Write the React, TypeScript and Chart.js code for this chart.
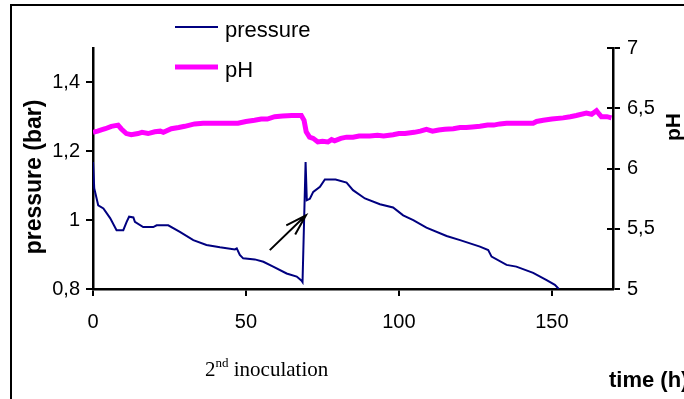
import { useEffect, useRef } from "react";
import { Chart, registerables } from "chart.js";

Chart.register(...registerables);

// ---- data ----
const pressureTime = [
  0, 0.4, 1.7, 3.4, 5.6, 7.7, 9.9, 11, 11.8, 13.2, 13.7, 16.4, 19.7, 20.8, 24.6,
  28.4, 32.8, 37.1, 41.5, 46.4, 47, 48, 49.1, 52.9, 55.7, 58.9, 63.3, 66.6, 68.2,
  68.5, 69.5, 69.9, 70.9, 72, 74.2, 75.8, 79.3, 82.9, 85, 88.9, 93.8, 98.1, 101.4,
  104.7, 109, 115.6, 120, 126.5, 129.2, 130.3, 135.2, 138.4, 143.9, 148.3, 151, 152.3,
];
const pressureBar = [
  1.169, 1.093, 1.043, 1.034, 1.006, 0.971, 0.971, 0.995, 1.01, 1.008, 0.995, 0.98, 0.98, 0.985, 0.985,
  0.966, 0.942, 0.928, 0.921, 0.915, 0.918, 0.899, 0.889, 0.886, 0.879, 0.865, 0.845, 0.836, 0.824,
  0.82, 1.169, 1.058, 1.062, 1.082, 1.097, 1.118, 1.118, 1.109, 1.087, 1.063, 1.046, 1.037, 1.014,
  1.0, 0.978, 0.954, 0.942, 0.923, 0.913, 0.894, 0.87, 0.865, 0.847, 0.826, 0.812, 0.8,
];
const phTime = [
  0, 1.5, 2.7, 4, 6, 8.2, 9.2, 10.9, 12.5, 14.7, 16, 18, 20.2, 22, 23, 25.6, 28, 30, 33.2, 36,
  40, 44, 47.4, 50, 52.8, 55, 57, 59.4, 62, 65, 68.1, 69, 69.7, 70.8, 72, 73.5, 75, 76.8, 78, 79,
  81, 82.9, 85, 87, 90.5, 93, 95, 98.1, 100, 102, 105, 107, 109, 111, 113, 115, 117.8, 120, 122,
  124, 126.5, 129, 131, 133, 135.2, 138, 141, 143.9, 145, 147.2, 150, 153.7, 156, 158, 161.3, 163,
  164.6, 165.5, 166.2, 168, 169.5,
];
const phValue = [
  6.3, 6.31, 6.32, 6.33, 6.35, 6.36, 6.33, 6.29, 6.28, 6.29, 6.3, 6.29, 6.305, 6.31, 6.3, 6.33, 6.34, 6.35, 6.37, 6.375,
  6.375, 6.375, 6.375, 6.39, 6.4, 6.41, 6.41, 6.43, 6.435, 6.44, 6.44, 6.4, 6.305, 6.26, 6.25, 6.22, 6.225, 6.22, 6.24, 6.23,
  6.25, 6.26, 6.26, 6.27, 6.27, 6.275, 6.27, 6.28, 6.29, 6.29, 6.3, 6.31, 6.325, 6.31, 6.32, 6.325, 6.33, 6.34, 6.34,
  6.345, 6.35, 6.36, 6.36, 6.37, 6.375, 6.375, 6.375, 6.375, 6.39, 6.4, 6.41, 6.42, 6.43, 6.44, 6.46, 6.45,
  6.48, 6.45, 6.43, 6.43, 6.42,
];
const timeTicks = [0, 50, 100, 150];
const pressureTicks = [0.8, 1, 1.2, 1.4];
const phTicks = [5, 5.5, 6, 6.5, 7];
const arrowTail = { x: 57.8, y: 0.913 };
const arrowTip = { x: 69.6, y: 1.014 };

const SANS = "'Liberation Sans', Arial, Helvetica, sans-serif";
const SERIF = "'Liberation Serif', 'Times New Roman', serif";
const comma = (v: number) => String(v).replace(".", ",");

const decorPlugin = {
  id: "decor",
  afterDraw(chart: any) {
    const ctx = chart.ctx as CanvasRenderingContext2D;
    const x = chart.scales.x;
    const y = chart.scales.y;
    const yR = chart.scales.yR;
    ctx.save();
    // frame (top + left)
    ctx.fillStyle = "#000";
    ctx.fillRect(10, 4, 674, 2);
    ctx.fillRect(10, 4, 2, 395);

    // inner tick marks on the right axis
    ctx.strokeStyle = "#000";
    ctx.lineWidth = 2;
    yR.ticks.forEach((t: any) => {
      const py = Math.round(yR.getPixelForValue(t.value));
      ctx.beginPath();
      ctx.moveTo(yR.left - 6, py);
      ctx.lineTo(yR.left, py);
      ctx.stroke();
    });

    // legend
    chart.data.datasets.forEach((ds: any, i: number) => {
      const ly = i === 0 ? 27 : 67;
      ctx.strokeStyle = ds.borderColor;
      ctx.lineWidth = i === 0 ? 2 : 5;
      ctx.beginPath();
      ctx.moveTo(175, ly);
      ctx.lineTo(218, ly);
      ctx.stroke();
      ctx.fillStyle = "#000";
      ctx.font = `22px ${SANS}`;
      ctx.textAlign = "left";
      ctx.textBaseline = "alphabetic";
      ctx.fillText(ds.label, 225, ly + 10);
    });

    // left axis title
    ctx.fillStyle = "#000";
    ctx.save();
    ctx.translate(35, 177);
    ctx.rotate(-Math.PI / 2);
    ctx.font = `bold 23px ${SANS}`;
    ctx.textAlign = "center";
    ctx.textBaseline = "middle";
    ctx.fillText("pressure (bar)", 0, 0);
    ctx.restore();

    // right axis title
    ctx.save();
    ctx.translate(674, 127);
    ctx.rotate(-Math.PI / 2);
    ctx.font = `bold 21px ${SANS}`;
    ctx.textAlign = "center";
    ctx.textBaseline = "middle";
    ctx.fillText("pH", 0, 0);
    ctx.restore();

    // x axis title
    ctx.font = `bold 22px ${SANS}`;
    ctx.textAlign = "left";
    ctx.textBaseline = "alphabetic";
    ctx.fillText("time (h)", 609, 387);

    // annotation
    ctx.font = `21px ${SERIF}`;
    ctx.fillText("2", 205, 376);
    const w2 = ctx.measureText("2").width;
    ctx.font = `13px ${SERIF}`;
    ctx.fillText("nd", 205 + w2, 367);
    const wnd = ctx.measureText("nd").width;
    ctx.font = `21px ${SERIF}`;
    ctx.fillText(" inoculation", 205 + w2 + wnd, 376);

    // arrow
    const tx = x.getPixelForValue(arrowTail.x);
    const ty = y.getPixelForValue(arrowTail.y);
    const hx = x.getPixelForValue(arrowTip.x);
    const hy = y.getPixelForValue(arrowTip.y);
    ctx.strokeStyle = "#000";
    ctx.lineWidth = 2;
    ctx.beginPath();
    ctx.moveTo(tx, ty);
    ctx.lineTo(hx, hy);
    const ang = Math.atan2(ty - hy, tx - hx);
    const L = 22;
    const spread = (17 * Math.PI) / 180;
    ctx.moveTo(hx + L * Math.cos(ang + spread), hy + L * Math.sin(ang + spread));
    ctx.lineTo(hx, hy);
    ctx.lineTo(hx + L * Math.cos(ang - spread), hy + L * Math.sin(ang - spread));
    ctx.stroke();
    ctx.restore();
  },
};

export default function App() {
  const ref = useRef<HTMLCanvasElement | null>(null);
  useEffect(() => {
    if (!ref.current) return;
    const tickFont = { family: SANS, size: 20 };
    const grid = {
      display: true,
      drawOnChartArea: false,
      drawTicks: true,
      tickLength: 7,
      color: "#000",
      lineWidth: 2,
    };
    const border = { display: true, color: "#000", width: 2.5 };
    const chart = new Chart(ref.current, {
      type: "line",
      data: {
        datasets: [
          {
            label: "pressure",
            data: pressureTime.map((t, i) => ({ x: t, y: pressureBar[i] })),
            borderColor: "#000080",
            backgroundColor: "#000080",
            borderWidth: 2,
            pointRadius: 0,
            tension: 0,
            yAxisID: "y",
          },
          {
            label: "pH",
            data: phTime.map((t, i) => ({ x: t, y: phValue[i] })),
            borderColor: "#ff00ff",
            backgroundColor: "#ff00ff",
            borderWidth: 5,
            pointRadius: 0,
            tension: 0,
            yAxisID: "yR",
          },
        ],
      },
      options: {
        animation: false,
        responsive: true,
        maintainAspectRatio: false,
        layout: { padding: { top: 48, left: 0, right: 0, bottom: 0 } },
        plugins: { legend: { display: false }, tooltip: { enabled: false } },
        scales: {
          x: {
            type: "linear",
            position: "bottom",
            min: 0,
            max: 170,
            grid,
            border,
            afterBuildTicks: (s: any) => {
              s.ticks = timeTicks.map((v) => ({ value: v }));
            },
            afterFit: (s: any) => {
              s.height = 110;
            },
            ticks: { font: tickFont, color: "#000", padding: 14, maxRotation: 0, callback: (v: any) => comma(v) },
          },
          y: {
            type: "linear",
            position: "left",
            min: 0.8,
            max: 1.5,
            grid,
            border,
            afterBuildTicks: (s: any) => {
              s.ticks = pressureTicks.map((v) => ({ value: v }));
            },
            afterFit: (s: any) => {
              s.width = 93;
            },
            ticks: { font: tickFont, color: "#000", padding: 6, callback: (v: any) => comma(v) },
          },
          yR: {
            type: "linear",
            position: "right",
            min: 5,
            max: 7,
            grid,
            border,
            afterBuildTicks: (s: any) => {
              s.ticks = phTicks.map((v) => ({ value: v }));
            },
            afterFit: (s: any) => {
              s.width = 71;
            },
            ticks: { font: tickFont, color: "#000", padding: 7, callback: (v: any) => comma(v) },
          },
        },
      },
      plugins: [decorPlugin],
    } as any);
    return () => chart.destroy();
  }, []);
  return (
    <div style={{ position: "absolute", left: 0, top: 0, width: 684, height: 399, background: "#fff", overflow: "hidden" }}>
      <canvas ref={ref} style={{ display: "block" }} />
    </div>
  );
}
